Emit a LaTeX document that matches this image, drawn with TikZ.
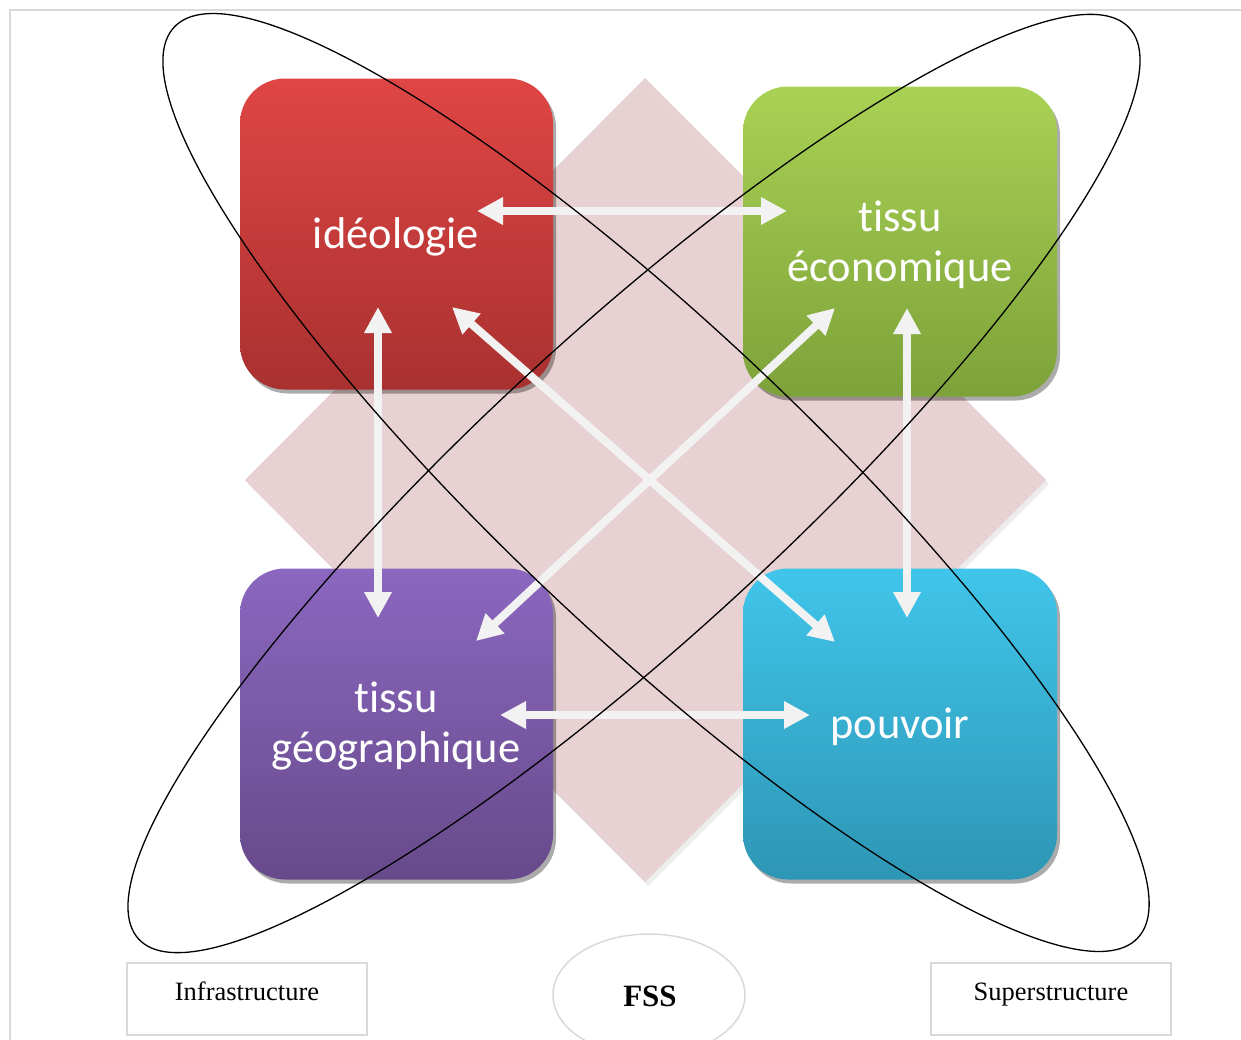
\documentclass[tikz,border=0pt]{standalone}
\usepackage{fontspec}
\setmainfont{Liberation Serif}
\newfontfamily\boxfont[Ligatures={NoCommon}]{Carlito}
\usetikzlibrary{arrows.meta,shapes.geometric,shadows}
\definecolor{framec}{HTML}{D9D9D9}
\definecolor{diamc}{HTML}{E8D1D2}
\definecolor{redT}{HTML}{DF4644}
\definecolor{redB}{HTML}{A83130}
\definecolor{grnT}{HTML}{A9D254}
\definecolor{grnB}{HTML}{7DA23A}
\definecolor{purT}{HTML}{8B67BF}
\definecolor{purB}{HTML}{674A8B}
\definecolor{bluT}{HTML}{40C5EA}
\definecolor{bluB}{HTML}{2E96B5}
\definecolor{arrowc}{HTML}{F2F2F2}
\tikzset{
  tile/.style={rounded corners=45pt, minimum width=313pt, minimum height=311pt, inner sep=0pt,
    drop shadow={shadow xshift=3pt, shadow yshift=-4pt, fill=black, opacity=0.33}},
  tiletext/.style={align=center, text=white, inner sep=0pt, font=\boxfont\fontsize{44.5}{50}\selectfont},
  warrow/.style={draw=arrowc, line width=8pt, <->, >={Triangle[length=26pt,width=26pt]}},
  orbit/.style={draw=black, line width=1.3pt, ellipse, inner sep=0pt},
  label box/.style={draw=framec, line width=1.5pt, minimum width=240pt, minimum height=72pt, inner sep=0pt},
  label text/.style={anchor=base, inner sep=0pt, font=\fontsize{26.5}{30}\selectfont},
}
\begin{document}
\begin{tikzpicture}[x=1pt,y=-1pt]
\useasboundingbox (0,0) rectangle (1241,1039);
% frame
\draw[framec, line width=2pt] (10,1060) -- (10,10) -- (1260,10);
% diamond
\fill[black, opacity=0.07] (648,82) -- (1049,484) -- (648,886) -- (248,484) -- cycle;
\fill[diamc] (645,78) -- (1046,480) -- (645,882) -- (245,480) -- cycle;
% tiles
\node[tile, top color=redT, bottom color=redB] (ideo) at (396.5,234) {};
\node[tile, top color=grnT, bottom color=grnB, minimum width=314pt, minimum height=310pt] (eco) at (900,241.5) {};
\node[tile, top color=purT, bottom color=purB] (geo) at (396.5,724) {};
\node[tile, top color=bluT, bottom color=bluB, minimum width=314pt] (pouv) at (900,724) {};
\node[tiletext] (ideoT) at (396,237) {idéologie};
\node[tiletext] (ecoT) at (900,245) {tissu\\économique};
\node[tiletext] (geoT) at (396,726) {tissu\\géographique};
\node[tiletext] (pouvT) at (900,727) {pouvoir};
% arrow ends
\coordinate (ideoR) at (477,211);
\coordinate (ecoL) at (787,211);
\coordinate (geoR) at (500,715);
\coordinate (pouvL) at (810,715);
\coordinate (ideoB) at (378,307);
\coordinate (geoUp) at (378,618);
\coordinate (ecoB) at (907,308);
\coordinate (pouvUp) at (907,618);
\coordinate (ideoD) at (452,307);
\coordinate (pouvD) at (835,642);
\coordinate (ecoD) at (835,308);
\coordinate (geoD) at (476,641);
\draw[warrow] (ideoR) -- (ecoL);
\draw[warrow] (geoR) -- (pouvL);
\draw[warrow] (ideoB) -- (geoUp);
\draw[warrow] (ecoB) -- (pouvUp);
\draw[warrow] (ideoD) -- (pouvD);
\draw[warrow] (ecoD) -- (geoD);
% orbits
\node[orbit, minimum width=1326pt, minimum height=306pt, rotate=-43.4] (orbA) at (656,482.5) {};
\node[orbit, minimum width=1346pt, minimum height=304pt, rotate=42.6] (orbB) at (634,483.5) {};
% bottom labels
\node[label box] (infra) at (247,999) {};
\node[label text] (infraT) at (247,1000) {Infrastructure};
\node[label box] (super) at (1051,999) {};
\node[label text] (superT) at (1051,1000) {Superstructure};
\node[draw=framec, line width=1.5pt, ellipse, minimum width=192pt, minimum height=122pt, inner sep=0pt] (fss) at (649,995) {};
\node[anchor=base, inner sep=0pt, font=\fontsize{31}{34}\selectfont\bfseries] (fssT) at (650,1006) {FSS};
\end{tikzpicture}
\end{document}
